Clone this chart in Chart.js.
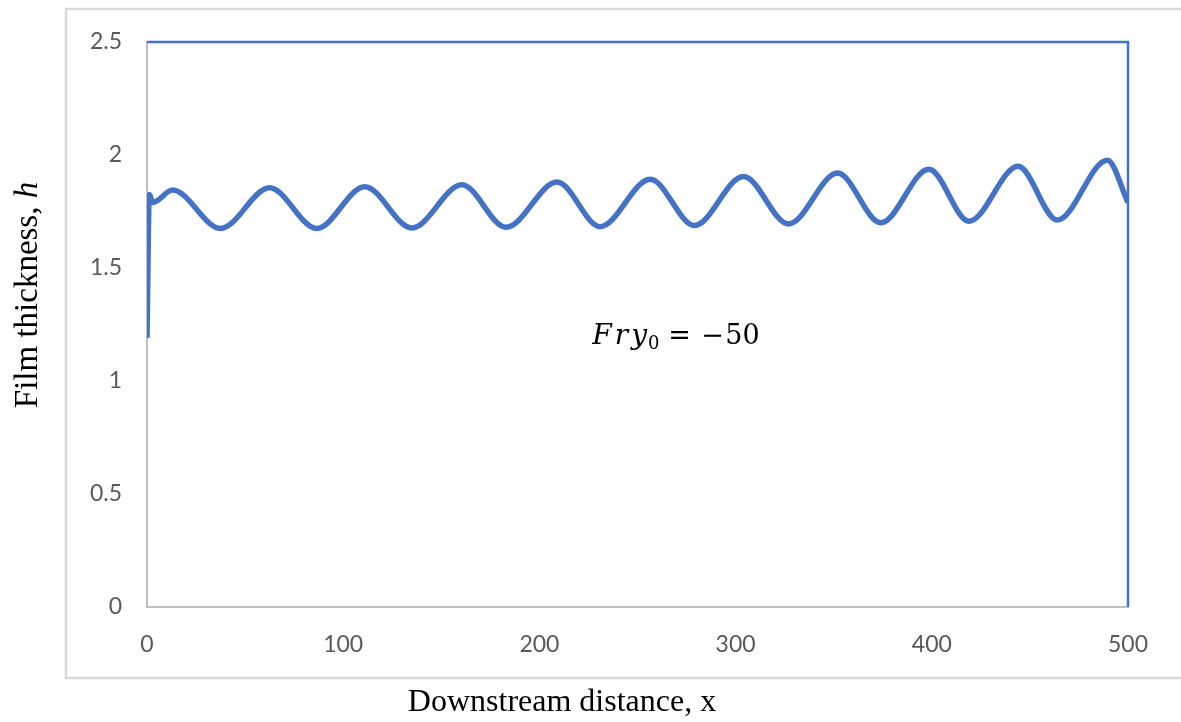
<!DOCTYPE html>
<html>
<head>
<meta charset="utf-8">
<title>Film thickness</title>
<script src="https://cdn.jsdelivr.net/npm/chart.js@4.4.0/dist/chart.umd.min.js"></script>
<style>
  html, body { margin: 0; padding: 0; background: #fff; }
  #wrap { width: 1181px; height: 722px; position: relative; }
</style>
</head>
<body>
<div id="wrap"><canvas id="filmChart"></canvas></div>
<script>
// downstream distance x and film thickness h: inlet rise, then wave crests and troughs
const distance = [0, 1.2, 3, 13, 37.5, 62.5, 86.5, 111, 135, 160.5, 183, 209, 231, 256.5, 279,
  304, 327, 352, 374, 398.5, 419, 444, 464, 489.5, 500];
const thickness = [1.19, 1.825, 1.79, 1.845, 1.675, 1.855, 1.675, 1.86, 1.677, 1.868, 1.68, 1.88, 1.683, 1.893, 1.688,
  1.905, 1.695, 1.92, 1.70, 1.937, 1.707, 1.95, 1.712, 1.977, 1.79];

// outline series running along the top and right edge
const frameX = [0, 500, 500];
const frameH = [2.5, 2.5, 0];

const xTicks = [0, 100, 200, 300, 400, 500];
const yTicks = [0, 0.5, 1, 1.5, 2, 2.5];

const annotX = 227;
const annotH = 1.165;

const blue = '#4472C4';
const tickGray = '#595959';

const textPlugin = {
  id: 'textPlugin',
  beforeDraw(chart) {
    const ctx = chart.ctx;
    ctx.save();
    ctx.fillStyle = '#fff';
    ctx.fillRect(0, 0, chart.width, chart.height);
    ctx.strokeStyle = '#D9D9D9';
    ctx.lineWidth = 2.5;
    ctx.strokeRect(66, 9, 1140, 669);
    ctx.restore();
  },
  afterDraw(chart) {
    const ctx = chart.ctx;
    const xs = chart.scales.x, ys = chart.scales.y;
    ctx.save();
    ctx.fillStyle = '#000';
    ctx.textBaseline = 'middle';

    // x axis title
    ctx.font = '32px "Liberation Serif"';
    ctx.textAlign = 'center';
    ctx.fillText('Downstream distance, x', 562, 703);

    // y axis title, "h" in italics
    ctx.save();
    ctx.translate(28, 295);
    ctx.rotate(-Math.PI / 2);
    ctx.textAlign = 'left';
    const part1 = 'Film thickness, ';
    ctx.font = '33px "Liberation Serif"';
    const w1 = ctx.measureText(part1).width;
    ctx.font = 'italic 33px "Liberation Serif"';
    const w2 = ctx.measureText('h').width;
    const start = -(w1 + w2) / 2;
    ctx.font = '33px "Liberation Serif"';
    ctx.fillText(part1, start, 0);
    ctx.font = 'italic 33px "Liberation Serif"';
    ctx.fillText('h', start + w1, 0);
    ctx.restore();

    // Froude number label
    const ax = xs.getPixelForValue(annotX);
    const ay = ys.getPixelForValue(annotH);
    ctx.textBaseline = 'alphabetic';
    ctx.textAlign = 'left';
    ctx.font = 'italic 28px "DejaVu Serif"';
    ctx.letterSpacing = '3px';
    ctx.fillText('Fry', ax, ay);
    const wf = ctx.measureText('Fry').width;
    ctx.letterSpacing = '0px';
    ctx.font = '18px "DejaVu Serif"';
    ctx.fillText('0', ax + wf - 2, ay + 5);
    ctx.font = '27px "DejaVu Serif"';
    ctx.fillText('=', ax + 76, ay);
    ctx.fillText('\u2212', ax + 109, ay);
    ctx.fillText('50', ax + 133, ay);
    ctx.restore();
  }
};

new Chart(document.getElementById('filmChart'), {
  type: 'line',
  data: {
    datasets: [{
      data: distance.map((x, i) => ({ x: x, y: thickness[i] })),
      borderColor: blue,
      borderWidth: 5.5,
      pointRadius: 0,
      cubicInterpolationMode: 'monotone',
      fill: false
    }, {
      data: frameX.map((x, i) => ({ x: x, y: frameH[i] })),
      borderColor: blue,
      borderWidth: 2.5,
      pointRadius: 0,
      tension: 0,
      clip: false,
      fill: false
    }]
  },
  options: {
    responsive: true,
    maintainAspectRatio: false,
    animation: false,
    layout: { padding: { left: 0, right: 53, top: 42, bottom: 0 } },
    plugins: {
      legend: { display: false },
      tooltip: { enabled: false }
    },
    scales: {
      x: {
        type: 'linear',
        min: 0,
        max: 500,
        afterBuildTicks: s => { s.ticks = xTicks.map(v => ({ value: v })); },
        afterFit: s => { s.height = 115; },
        grid: { display: false, drawTicks: false },
        border: { display: true, color: '#BFBFBF', width: 2 },
        ticks: { color: tickGray, font: { family: 'Lato', size: 23 }, padding: 24, maxRotation: 0,
          callback: v => String(v) }
      },
      y: {
        type: 'linear',
        min: 0,
        max: 2.5,
        afterBuildTicks: s => { s.ticks = yTicks.map(v => ({ value: v })); },
        afterFit: s => { s.width = 147; },
        grid: { display: false, drawTicks: false },
        border: { display: true, color: '#BFBFBF', width: 2 },
        ticks: { color: tickGray, font: { family: 'Lato', size: 23 }, padding: 25,
          callback: v => String(v) }
      }
    }
  },
  plugins: [textPlugin]
});
</script>
</body>
</html>
